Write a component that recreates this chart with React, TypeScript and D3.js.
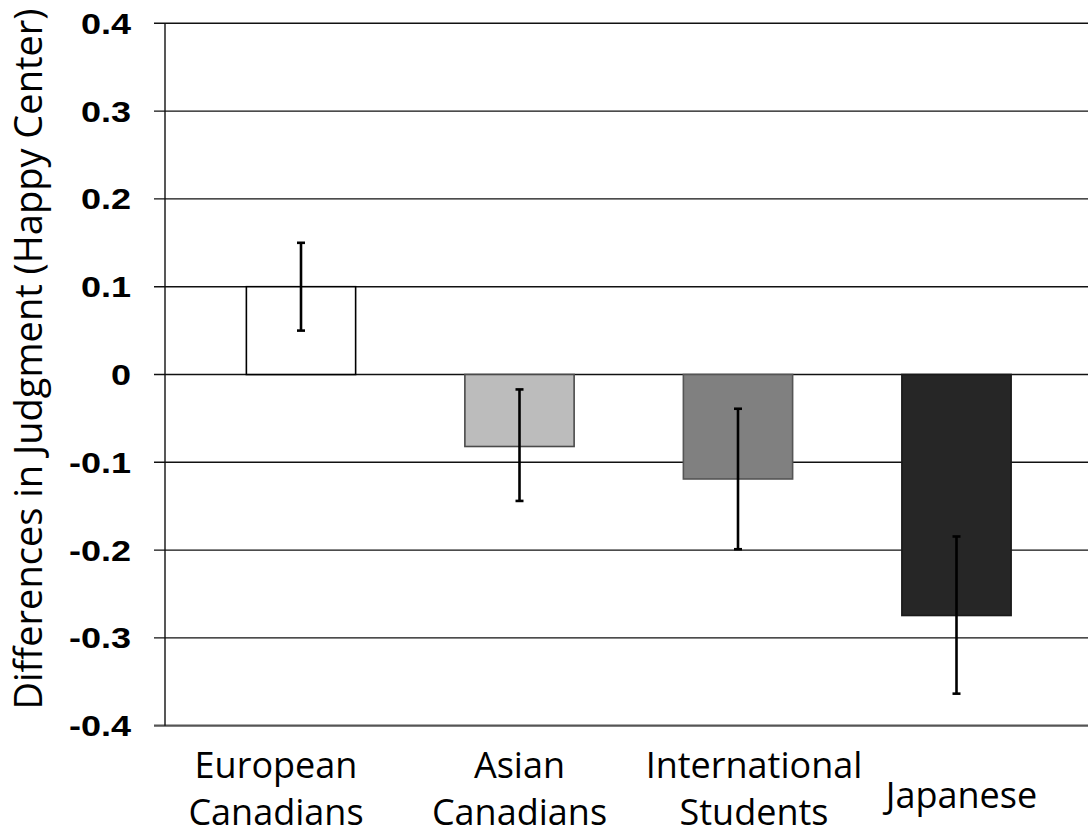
import React from "react";
import * as d3 from "d3";

const categories: string[][] = [
  ["European", "Canadians"],
  ["Asian", "Canadians"],
  ["International", "Students"],
  ["Japanese"],
];
const means: number[] = [0.1, -0.082, -0.119, -0.2745];
const errLow: number[] = [0.05, -0.144, -0.199, -0.3635];
const errHigh: number[] = [0.15, -0.017, -0.039, -0.1845];
const yTicks: number[] = [0.4, 0.3, 0.2, 0.1, 0, -0.1, -0.2, -0.3, -0.4];
const yTickLabels: string[] = ["0.4", "0.3", "0.2", "0.1", "0", "-0.1", "-0.2", "-0.3", "-0.4"];
const fills: string[] = ["#ffffff", "#bcbcbc", "#808080", "#262626"];
const strokes: string[] = ["#000000", "#4a4a4a", "#555555", "#1a1a1a"];
const yTitle = "Differences in Judgment (Happy Center)";

// label layout nudges (styling, not data)
const labelNudge: number[] = [-25, 0, 16, 5];

const W = 1088;
const H = 840;

export default function App() {
  const y = d3.scaleLinear().domain([-0.4, 0.4]).range([725.7, 23.3]);
  const x = d3
    .scaleBand<number>()
    .domain(d3.range(categories.length))
    .range([191.75, 1065.75])
    .paddingInner(0.5)
    .paddingOuter(0.25);
  const axisX = 165;
  const bw = x.bandwidth();
  const sans = "'Open Sans', 'Noto Sans', sans-serif";

  return (
    <svg
      width={W}
      height={H}
      viewBox={`0 0 ${W} ${H}`}
      style={{ position: "absolute", left: 0, top: 0, background: "#fff" }}
    >
      <rect x={0} y={0} width={W} height={H} fill="#fff" />
      {yTicks.map((t, i) => (
        <line
          key={"g" + i}
          x1={154}
          x2={W}
          y1={y(t)}
          y2={y(t)}
          stroke={t === -0.4 ? "#555" : "#111"}
          strokeWidth={t === -0.4 ? 2.2 : 1.4}
        />
      ))}
      <line x1={axisX} x2={axisX} y1={y(0.4)} y2={y(-0.4)} stroke="#111" strokeWidth={1.4} />
      {means.map((m, i) => (
        <rect
          key={"b" + i}
          x={x(i)!}
          y={Math.min(y(m), y(0))}
          width={bw}
          height={Math.abs(y(m) - y(0))}
          fill={fills[i]}
          stroke={strokes[i]}
          strokeWidth={1.6}
        />
      ))}
      {means.map((m, i) => {
        const cx = x(i)! + bw / 2;
        return (
          <g key={"e" + i} stroke="#000" strokeWidth={2.6}>
            <line x1={cx} x2={cx} y1={y(errHigh[i])} y2={y(errLow[i])} />
            <line x1={cx - 4} x2={cx + 4} y1={y(errHigh[i])} y2={y(errHigh[i])} />
            <line x1={cx - 4} x2={cx + 4} y1={y(errLow[i])} y2={y(errLow[i])} />
          </g>
        );
      })}
      {yTicks.map((t, i) => (
        <text
          key={"t" + i}
          transform={`translate(131, ${y(t) + 10.5}) scale(1.2, 1)`}
          textAnchor="end"
          fontFamily="'Liberation Sans', Arial, sans-serif"
          fontWeight="bold"
          fontSize={30}
          fill="#000"
        >
          {yTickLabels[i]}
        </text>
      ))}
      {categories.map((lines, i) => {
        const cx = x(i)! + bw / 2 + labelNudge[i];
        const baseY = lines.length === 1 ? 808 : 778;
        return (
          <text key={"x" + i} textAnchor="middle" fontFamily={sans} fontSize={36} fill="#000">
            {lines.map((ln, j) => (
              <tspan key={j} x={cx} y={baseY + j * 47}>
                {ln}
              </tspan>
            ))}
          </text>
        );
      })}
      <text
        transform={`translate(42, 359) rotate(-90)`}
        textAnchor="middle"
        fontFamily={sans}
        fontSize={38}
        fill="#000"
      >
        {yTitle}
      </text>
    </svg>
  );
}
